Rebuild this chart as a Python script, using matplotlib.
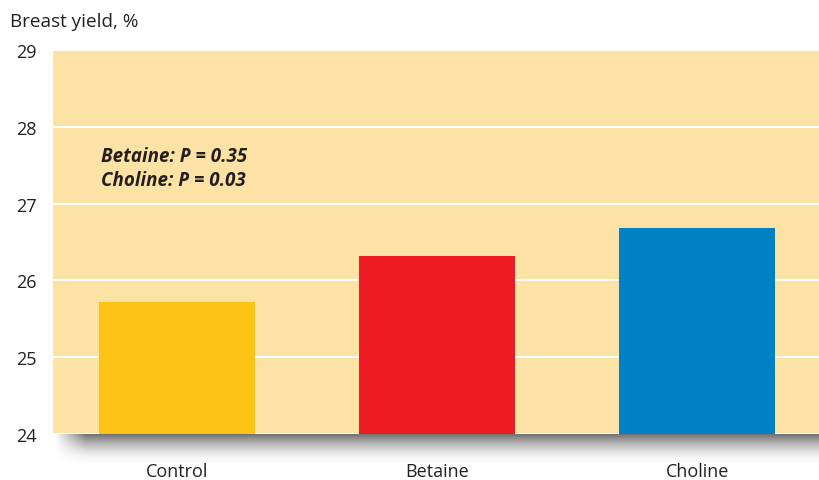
import numpy as np
import matplotlib.pyplot as plt

groups = ['Control', 'Betaine', 'Choline']
breast_yield = [25.72, 26.32, 26.68]
bar_colors = ['#FDC314', '#ED1C24', '#0081C6']
yticks = [24, 25, 26, 27, 28, 29]
note_lines = ['Betaine: P = 0.35', 'Choline: P = 0.03']

plt.rcParams['font.family'] = ['Open Sans', 'DejaVu Sans']

W, H = 820, 481
fig = plt.figure(figsize=(W / 100, H / 100), dpi=100)

# axes box in pixels: left 53, top 51, bottom 435, right past the image edge
ax = fig.add_axes([53 / W, 1 - 435 / H, (830 - 53) / W, (435 - 51) / H])
ax.set_facecolor('#FDE2A6')

# drop shadow under the plot area
sh = fig.add_axes([50 / W, 1 - 468 / H, (830 - 50) / W, 36 / H], zorder=0)
ny, nx = 60, 400
yy = np.linspace(0, 1, ny)[:, None]
xx = np.linspace(0, 1, nx)[None, :]
vert = np.clip(1 - (yy - 0.05) / 0.9, 0, 1) ** 1.8
vert[yy[:, 0] < 0.05] = 1
horiz = np.clip((xx - 0.005) / 0.04, 0, 1)
alpha = 0.68 * vert * horiz
rgba = np.zeros((ny, nx, 4))
rgba[..., :3] = 0.12
rgba[..., 3] = alpha
sh.imshow(rgba, aspect='auto', extent=[0, 1, 0, 1], origin='upper')
sh.axis('off')
ax.set_zorder(1)

x = np.arange(len(groups))
ax.bar(x, np.array(breast_yield) - 24, bottom=24, width=0.6, color=bar_colors, zorder=3)

ax.set_ylim(24, 29)
ax.set_xlim(-0.475, 2.51)
ax.set_yticks(yticks)
ax.set_yticklabels([str(t) for t in yticks], fontsize=13, color='#231F20')
ax.set_xticks(x)
ax.set_xticklabels(groups, fontsize=13, color='#231F20')
ax.tick_params(axis='both', length=0)
ax.tick_params(axis='y', pad=12)
ax.tick_params(axis='x', pad=20)
for s in ax.spines.values():
    s.set_visible(False)
ax.yaxis.grid(True, color='white', linewidth=1.4, zorder=1)
ax.set_axisbelow(True)

fig.text(10 / W, 1 - 22 / H, 'Breast yield, %', fontsize=13.6, color='#231F20', va='center')
for i, line in enumerate(note_lines):
    ax.text(0.062, 0.723 - i * 0.062, line, transform=ax.transAxes, fontsize=13.5,
            fontweight='bold', fontstyle='italic', color='#231F20', va='center')

fig.savefig('out.png', dpi=100)
